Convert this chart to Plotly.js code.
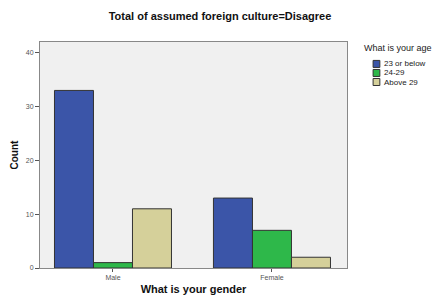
<!DOCTYPE html>
<html><head><meta charset="utf-8">
<script src="https://cdn.plot.ly/plotly-3.0.1.min.js"></script>
<style>html,body{margin:0;padding:0;background:#fff}#c{width:440px;height:295px}</style>
</head><body><div id="c"></div>
<script>
const categories = ["Male", "Female"];
const seriesNames = ["23 or below", "24-29", "Above 29"];
const below23 = [33, 13];
const age24to29 = [1, 7];
const above29 = [11, 2];
const colors = ["#3b55a8", "#2eb84a", "#d5d09a"];
const values = [below23, age24to29, above29];
const traces = seriesNames.map((n, i) => ({
  type: "bar", name: n, x: categories, y: values[i],
  marker: {color: colors[i], line: {color: "#333", width: 1}}
}));
// custom compact legend (SPSS-like)
const legX0 = 1.085, legX1 = 1.107, legTextX = 1.114;
const legY = [0.903, 0.863, 0.823], half = 0.0155;
const shapes = [], annotations = [{
  xref: "paper", yref: "paper", x: 1.049, y: 0.973, xanchor: "left", yanchor: "middle",
  text: "What is your age", showarrow: false, font: {size: 9, color: "#222"}
}];
seriesNames.forEach((n, i) => {
  shapes.push({type: "rect", xref: "paper", yref: "paper", x0: legX0, x1: legX1,
    y0: legY[i] - half, y1: legY[i] + half, fillcolor: colors[i], line: {color: "#333", width: 1}});
  annotations.push({xref: "paper", yref: "paper", x: legTextX, y: legY[i], xanchor: "left", yanchor: "middle",
    text: n, showarrow: false, font: {size: 8, color: "#222"}});
});
const layout = {
  width: 440, height: 295,
  margin: {l: 40, r: 93, t: 42, b: 27},
  paper_bgcolor: "#fff", plot_bgcolor: "#f0f0f0",
  font: {family: "Liberation Sans, Arial, sans-serif", size: 7, color: "#555"},
  title: {text: "<b>Total of assumed foreign culture=Disagree</b>", x: 0.5, xanchor: "center", y: 0.945, yanchor: "middle",
    font: {size: 11, color: "#111"}},
  barmode: "group", bargap: 0.264, bargroupgap: 0,
  xaxis: {range: [-0.459, 1.472], showline: true, linecolor: "#888", linewidth: 1, mirror: true,
    ticks: "outside", ticklen: 3, tickcolor: "#555", showgrid: false,
    title: {text: "<b>What is your gender</b>", font: {size: 11, color: "#111"}, standoff: 10}},
  yaxis: {range: [0, 42], tickvals: [0, 10, 20, 30, 40], showline: true, linecolor: "#888", linewidth: 1, mirror: true,
    ticks: "outside", ticklen: 4, tickcolor: "#555", showgrid: false, zeroline: false,
    title: {text: "<b>Count</b>", font: {size: 10, color: "#111"}, standoff: 5}},
  showlegend: false,
  shapes: shapes, annotations: annotations
};
Plotly.newPlot("c", traces, layout, {displayModeBar: false, staticPlot: true});
</script></body></html>
